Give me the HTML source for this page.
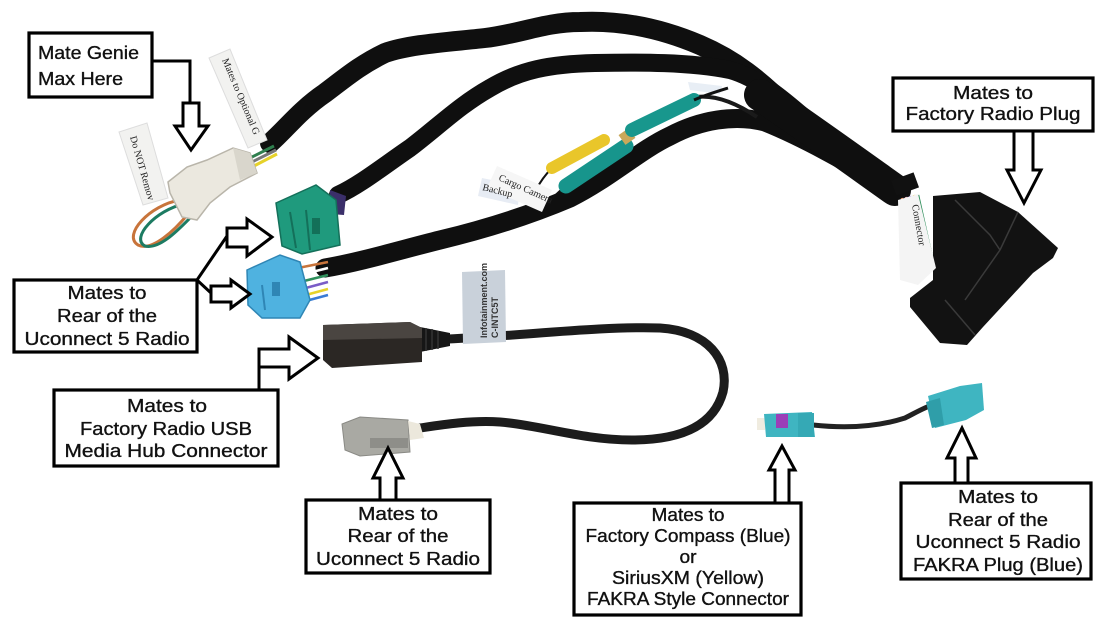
<!DOCTYPE html>
<html><head><meta charset="utf-8"><style>
html,body{margin:0;padding:0;background:#fff;}
svg{display:block;}
.lbl{font-family:"Liberation Sans",sans-serif;font-size:18px;fill:#111;stroke:#111;stroke-width:0.35;}
.box{fill:#fff;stroke:#000;stroke-width:3.2;}
.arr{fill:#fff;stroke:#000;stroke-width:3;stroke-linejoin:miter;}
.ln{fill:none;stroke:#000;stroke-width:3;}
.sl{fill:none;stroke:#0f0f0f;stroke-linecap:round;}
.tag{font-family:"Liberation Serif",serif;font-size:10px;fill:#222;}
</style></head><body>
<svg width="1107" height="621" viewBox="0 0 1107 621" xmlns="http://www.w3.org/2000/svg">
<rect width="1107" height="621" fill="#fff"/>

<!-- ===== Harness sleeves ===== -->
<path class="sl" stroke-width="20" d="M270,143 C285,130 300,110 325,93 C345,78 360,65 385,53 C410,44 450,42 485,38 C520,34 545,22 580,22 C620,20 660,28 700,45 C735,60 760,80 790,110 C825,140 860,165 900,190"/>
<path class="sl" stroke-width="18" d="M338,195 C360,185 385,165 410,148 C440,125 460,105 490,88 C520,70 550,64 595,63 C640,62 690,62 730,70 C765,80 795,110 830,140 C855,160 875,178 900,192"/>
<path class="sl" stroke-width="19" d="M325,268 C360,262 400,250 440,240 C490,228 530,215 570,198 C610,178 640,150 670,136 C700,120 735,114 765,122 C810,140 860,170 900,193"/>
<path class="sl" stroke-width="32" d="M760,95 C800,122 850,158 895,190"/>
<path fill="none" stroke="#1a1a1a" stroke-width="4" d="M696,97 C712,95 732,100 757,117"/>
<path fill="#e8eef5" d="M688,82 L722,86 L720,94 L690,90 Z"/>

<!-- RCA connectors -->
<path fill="none" stroke="#111" stroke-width="2" d="M552,168 C545,175 540,182 536,190"/>
<path fill="none" stroke="#111" stroke-width="2" d="M566,186 C558,192 552,198 548,204"/>
<line x1="552" y1="168" x2="604" y2="140" stroke="#e9c62a" stroke-width="12" stroke-linecap="round"/>
<line x1="566" y1="186" x2="626" y2="146" stroke="#17958c" stroke-width="15" stroke-linecap="round"/>
<line x1="622" y1="140" x2="632" y2="133" stroke="#c9a85a" stroke-width="12"/>
<line x1="632" y1="130" x2="694" y2="100" stroke="#18978d" stroke-width="14" stroke-linecap="round"/>
<path fill="none" stroke="#111" stroke-width="3" d="M694,100 C705,95 715,92 728,88"/>
<!-- cargo camera tag -->
<polygon points="482,178 520,186 518,205 478,196" fill="#e7ecf4"/>
<polygon points="497,166 552,190 542,212 487,188" fill="#f6f6f6"/>
<text class="tag" transform="translate(498,180) rotate(24)">Cargo Camera</text>
<text class="tag" transform="translate(482,190) rotate(14)" font-size="8">Backup</text>

<!-- ===== Genie connector ===== -->
<path fill="none" stroke="#c8743b" stroke-width="3" d="M180,200 C150,205 122,235 138,245 C152,252 175,230 188,214"/>
<path fill="none" stroke="#1d7b62" stroke-width="3" d="M184,204 C156,210 130,238 145,246 C160,250 180,228 192,216"/>
<line x1="250" y1="158" x2="274" y2="146" stroke="#2f7f4e" stroke-width="3"/>
<line x1="252" y1="162" x2="276" y2="150" stroke="#777" stroke-width="3"/>
<line x1="254" y1="166" x2="277" y2="154" stroke="#e6d22a" stroke-width="3"/>
<polygon points="168,182 187,167 207,160 233,148 250,153 257,173 230,187 210,203 197,220 182,217 170,193" fill="#ebe8df" stroke="#b9b5aa" stroke-width="1.5"/>
<polygon points="233,148 250,153 257,173 240,180" fill="#d9d6cc"/>
<!-- tags -->
<polygon points="119,132 147,123 168,198 143,205" fill="#f2f2f0" stroke="#ddd" stroke-width="1"/>
<text class="tag" transform="translate(130,137) rotate(74)">Do NOT Remov</text>
<polygon points="209,58 230,49 267,140 248,148" fill="#f2f2f0" stroke="#ddd" stroke-width="1"/>
<text class="tag" transform="translate(222,60) rotate(67)">Mates to Optional G</text>

<!-- green connector -->
<polygon points="330,190 346,196 344,215 330,214" fill="#3b2f6a"/>
<polygon points="276,203 316,185 336,200 340,245 302,254 282,246" fill="#1f9a7d" stroke="#14705a" stroke-width="1.5"/>
<line x1="290" y1="212" x2="296" y2="248" stroke="#14705a" stroke-width="2"/>
<line x1="306" y1="210" x2="310" y2="250" stroke="#14705a" stroke-width="2"/>
<rect x="312" y="218" width="8" height="16" fill="#137059"/>

<!-- blue connector wires -->
<g stroke-width="2.5">
<line x1="298" y1="268" x2="328" y2="262" stroke="#c8743b"/>
<line x1="300" y1="275" x2="328" y2="268" stroke="#ffffff"/>
<line x1="300" y1="282" x2="328" y2="275" stroke="#2f8f5b"/>
<line x1="302" y1="289" x2="328" y2="282" stroke="#7a5cc7"/>
<line x1="302" y1="296" x2="328" y2="289" stroke="#e6d22a"/>
<line x1="302" y1="302" x2="328" y2="295" stroke="#3a7bd5"/>
</g>
<polygon points="247,270 280,255 300,262 310,300 300,318 262,318 248,305" fill="#4fb2e0" stroke="#2f86b5" stroke-width="1.5"/>
<line x1="262" y1="285" x2="265" y2="310" stroke="#2f86b5" stroke-width="2"/>
<rect x="272" y="282" width="8" height="14" fill="#2f86b5"/>

<!-- ===== USB cable ===== -->
<path fill="none" stroke="#1c1c1c" stroke-width="9" stroke-linecap="round" d="M448,339 C520,336 600,326 660,328 C708,331 730,360 723,392 C714,425 682,440 632,440 C582,440 540,425 500,422 C470,420 440,425 420,428"/>
<polygon points="462,272 505,270 506,342 463,344" fill="#c9d1da"/>
<text transform="translate(487,338) rotate(-90)" font-family="Liberation Sans,sans-serif" font-size="9" font-weight="bold" fill="#333">Infotainment.com</text>
<text transform="translate(498,338) rotate(-90)" font-family="Liberation Sans,sans-serif" font-size="9" font-weight="bold" fill="#333">C-INTC5T</text>
<polygon points="420,327 450,333 450,346 420,352" fill="#161616"/>
<g stroke="#333" stroke-width="1.5"><line x1="426" y1="328" x2="426" y2="351"/><line x1="432" y1="329" x2="432" y2="350"/><line x1="438" y1="331" x2="438" y2="349"/></g>
<polygon points="323,325 410,322 422,328 422,362 332,368 323,360" fill="#2b2724"/>
<polygon points="323,325 410,322 422,328 422,338 323,340" fill="#4a4541"/>
<!-- gray connector -->
<polygon points="342,424 360,417 408,420 410,452 360,456 345,450" fill="#a9a9a3" stroke="#8a8a85" stroke-width="1"/>
<rect x="370" y="438" width="38" height="10" fill="#8e8e89"/>
<polygon points="408,421 420,424 424,438 410,440" fill="#ece8dc"/>

<!-- ===== FAKRA cable ===== -->
<path fill="none" stroke="#222" stroke-width="5" d="M813,425 C850,429 880,426 905,418 C915,413 925,407 935,404"/>
<rect x="757" y="418" width="8" height="12" fill="#f0ece0"/>
<polygon points="764,414 812,412 815,437 766,437" fill="#3fb5c1"/>
<rect x="776" y="414" width="12" height="14" fill="#9b3fb8"/>
<rect x="798" y="413" width="16" height="24" fill="#35a9b5"/>
<polygon points="928,396 960,386 982,383 984,410 966,420 935,428" fill="#3fb5c1"/>
<polygon points="926,402 940,398 944,425 932,428" fill="#2f9ea9"/>

<!-- ===== Right connector ===== -->
<rect x="893" y="176" width="24" height="16" fill="#111" transform="rotate(-20 905 184)"/>
<g stroke-width="2.5">
<line x1="902" y1="198" x2="915" y2="272" stroke="#e88b5a"/>
<line x1="906" y1="197" x2="920" y2="270" stroke="#e7a0b0"/>
<line x1="910" y1="196" x2="925" y2="268" stroke="#7a5cc7"/>
<line x1="914" y1="195" x2="930" y2="266" stroke="#f2c230"/>
<line x1="918" y1="195" x2="933" y2="262" stroke="#2f8f5b"/>
<line x1="922" y1="195" x2="935" y2="255" stroke="#fff"/>
</g>
<polygon points="933,196 980,192 1018,212 1058,248 1053,258 1033,273 983,327 967,345 940,343 910,307 910,298 933,280" fill="#121212"/>
<g stroke="#3a3a3a" stroke-width="1.5" fill="none">
<path d="M955,200 L990,235 L1000,250"/>
<path d="M1000,250 L965,300"/>
<path d="M1018,212 L1000,250"/>
<path d="M945,300 L975,335"/>
</g>
<polygon points="898,200 918,194 936,268 918,285 900,280" fill="#f4f4f4"/>
<text class="tag" transform="translate(912,205) rotate(80)">Connector</text>

<!-- ===== Callouts ===== -->
<!-- Mate Genie -->
<rect class="box" x="29" y="33" width="123" height="64"/>
<text class="lbl" x="38" y="59" textLength="101" lengthAdjust="spacingAndGlyphs">Mate Genie</text>
<text class="lbl" x="38" y="85" textLength="85" lengthAdjust="spacingAndGlyphs">Max Here</text>
<polyline class="ln" points="152,61 190,61 190,103"/>
<polygon class="arr" points="183,103 199,103 199,126 208,126 191,150 175,126 183,126"/>

<!-- Rear of Uconnect (left) -->
<rect class="box" x="14" y="280" width="183" height="72"/>
<text class="lbl" x="107" y="299" text-anchor="middle" textLength="79" lengthAdjust="spacingAndGlyphs">Mates to</text>
<text class="lbl" x="107" y="322" text-anchor="middle" textLength="100" lengthAdjust="spacingAndGlyphs">Rear of the</text>
<text class="lbl" x="107" y="345" text-anchor="middle" textLength="165" lengthAdjust="spacingAndGlyphs">Uconnect 5 Radio</text>
<line class="ln" x1="197" y1="280" x2="227" y2="236"/>
<line class="ln" x1="197" y1="280" x2="211" y2="293"/>
<polygon class="arr" points="227,228 247,228 247,219 272,237 247,256 247,247 227,247"/>
<polygon class="arr" points="211,286 231,286 231,280 250,294 231,308 231,302 211,302"/>

<!-- USB -->
<rect class="box" x="54" y="390" width="224" height="76"/>
<text class="lbl" x="167" y="412" text-anchor="middle" textLength="80" lengthAdjust="spacingAndGlyphs">Mates to</text>
<text class="lbl" x="166" y="435" text-anchor="middle" textLength="172" lengthAdjust="spacingAndGlyphs">Factory Radio USB</text>
<text class="lbl" x="166" y="457" text-anchor="middle" textLength="203" lengthAdjust="spacingAndGlyphs">Media Hub Connector</text>
<line class="ln" x1="259" y1="390" x2="259" y2="349"/>
<polygon class="arr" points="259,349 289,349 289,337 318,358 289,379 289,367 259,367"/>

<!-- Rear of Uconnect (bottom) -->
<rect class="box" x="306" y="500" width="184" height="73"/>
<text class="lbl" x="398" y="520" text-anchor="middle" textLength="80" lengthAdjust="spacingAndGlyphs">Mates to</text>
<text class="lbl" x="398" y="542" text-anchor="middle" textLength="101" lengthAdjust="spacingAndGlyphs">Rear of the</text>
<text class="lbl" x="398" y="565" text-anchor="middle" textLength="164" lengthAdjust="spacingAndGlyphs">Uconnect 5 Radio</text>
<polygon class="arr" points="380,500 380,478 373,478 388,448 403,478 396,478 396,500"/>

<!-- Compass -->
<rect class="box" x="574" y="503" width="227" height="112"/>
<text class="lbl" x="688" y="521" text-anchor="middle" textLength="73" lengthAdjust="spacingAndGlyphs">Mates to</text>
<text class="lbl" x="688" y="542" text-anchor="middle" textLength="205" lengthAdjust="spacingAndGlyphs">Factory Compass (Blue)</text>
<text class="lbl" x="688" y="563" text-anchor="middle" textLength="17" lengthAdjust="spacingAndGlyphs">or</text>
<text class="lbl" x="688" y="584" text-anchor="middle" textLength="152" lengthAdjust="spacingAndGlyphs">SiriusXM (Yellow)</text>
<text class="lbl" x="688" y="605" text-anchor="middle" textLength="202" lengthAdjust="spacingAndGlyphs">FAKRA Style Connector</text>
<polygon class="arr" points="775,503 775,470 769,470 782,446 795,470 789,470 789,503"/>

<!-- FAKRA rear -->
<rect class="box" x="901" y="483" width="190" height="96"/>
<text class="lbl" x="998" y="503" text-anchor="middle" textLength="80" lengthAdjust="spacingAndGlyphs">Mates to</text>
<text class="lbl" x="998" y="526" text-anchor="middle" textLength="100" lengthAdjust="spacingAndGlyphs">Rear of the</text>
<text class="lbl" x="998" y="548" text-anchor="middle" textLength="165" lengthAdjust="spacingAndGlyphs">Uconnect 5 Radio</text>
<text class="lbl" x="998" y="571" text-anchor="middle" textLength="170" lengthAdjust="spacingAndGlyphs">FAKRA Plug (Blue)</text>
<polygon class="arr" points="955,483 955,458 947,458 962,428 976,458 968,458 968,483"/>

<!-- Factory Radio Plug -->
<rect class="box" x="893" y="78" width="200" height="53"/>
<text class="lbl" x="993" y="99" text-anchor="middle" textLength="80" lengthAdjust="spacingAndGlyphs">Mates to</text>
<text class="lbl" x="993" y="120" text-anchor="middle" textLength="175" lengthAdjust="spacingAndGlyphs">Factory Radio Plug</text>
<polygon class="arr" points="1014,131 1033,131 1033,170 1041,170 1024,203 1007,170 1014,170"/>
</svg>
</body></html>
